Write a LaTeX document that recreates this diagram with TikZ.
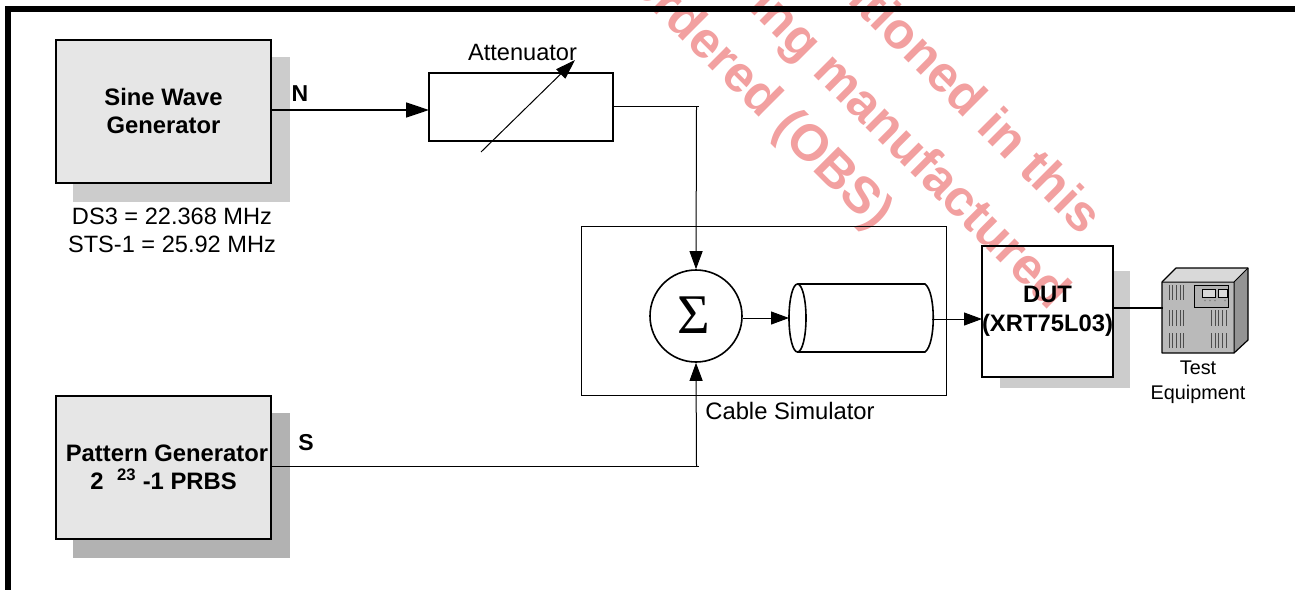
\documentclass[tikz,border=0pt]{standalone}
\usepackage{fontspec}
\setmainfont{Liberation Sans}
\newfontfamily\serifsym{Liberation Serif}
\usetikzlibrary{arrows.meta}
\definecolor{wm}{HTML}{F2A0A0}
\definecolor{lightsh}{HTML}{CCCCCC}
\definecolor{darksh}{HTML}{B2B2B2}
\definecolor{boxfill}{HTML}{E6E6E6}
\tikzset{
  gen/.style={draw=black,line width=1.6pt,fill=boxfill,minimum width=215pt,minimum height=143pt,inner sep=0pt,align=center,font=\fontsize{23.8}{28}\selectfont\bfseries},
  shad/.style={fill=#1,draw=none,inner sep=0pt},
  lbl/.style={inner sep=0pt,align=center,font=\fontsize{23.6}{28}\selectfont},
  blbl/.style={inner sep=0pt,font=\fontsize{23}{25}\selectfont\bfseries},
  wmark/.style={text=wm,inner sep=0pt,anchor=center,rotate=-45,font=\fontsize{51}{60}\selectfont\bfseries},
  conn/.style={draw=black,line width=1pt},
  connb/.style={draw=black,line width=1.7pt},
  tip/.style={-{Triangle[length=18pt,width=13pt]}},
  bigtip/.style={-{Triangle[length=23pt,width=15pt]}},
  vent/.style={draw=black!70,line width=.6pt}
}
\newcommand{\ventgroup}[3]{\foreach \i in {0,...,4}{\draw[vent] ({#1+\i*3.6},#2) -- ({#1+\i*3.6},#3);}}
\begin{document}
\begin{tikzpicture}[x=1pt,y=-1pt]
\useasboundingbox (0,0) rectangle (1295,590);
\begin{scope}
\clip (0,0) rectangle (1295,590);
\node[wmark] (wa) at (760,99) {ordered (OBS)};
\node[wmark] (wb) at (908,151) {ing manufactured};
\node[wmark] (wc) at (971,100) {ntioned in this};
\end{scope}
% frame
\fill[black] (5,6) rectangle (1295,12);
\fill[black] (5,6) rectangle (11,590);
% shadows
\node[shad=lightsh,minimum width=217pt,minimum height=145pt] (sh1) at (181.5,129.5) {};
\node[shad=darksh,minimum width=217pt,minimum height=145pt] (sh2) at (181.5,485.5) {};
\fill[lightsh] (1113,271) rectangle (1130,388);
\fill[lightsh] (1000,377) rectangle (1130,388);
% generators
\node[gen] (sine) at (163.5,111.5) {\raisebox{1pt}{Sine Wave}\\\raisebox{1pt}{Generator}};
\node[gen] (patt) at (163.5,467.5) {\hspace*{7pt}Pattern Generator\\2\hspace{7pt} \textsuperscript{23} -1 PRBS};
\node[lbl] (freq) at (172,230) {DS3 = 22.368 MHz\\STS-1 = 25.92 MHz};
% attenuator
\node[draw=black,line width=1.6pt,minimum width=184pt,minimum height=68pt,inner sep=0pt] (att) at (521,107) {};
\node[lbl] (attl) at (522.5,52) {Attenuator};
\coordinate (va) at (481,152);
\coordinate (vb) at (575,60);
\draw[conn,-{Triangle[length=20pt,width=13pt]}] (va) -- (vb);
% cable simulator
\node[draw=black,line width=1pt,minimum width=365pt,minimum height=169pt,inner sep=0pt] (cs) at (763.5,310.5) {};
\node[lbl,font=\fontsize{23.8}{28}\selectfont] (csl) at (790,411) {Cable Simulator};
\node[draw=black,line width=1.6pt,circle,minimum size=92pt,inner sep=0pt] (sum) at (696,316) {};
\node[inner sep=0pt,font=\fontsize{56}{60}\selectfont\serifsym] (sumt) at (693.5,315) {Σ};
% cable
\draw[line width=1.6pt,fill=white] (797.5,284) -- (925,284) .. controls (936,292) and (936,344) .. (925,352) -- (797.5,352);
\draw[line width=1.6pt,fill=white] (797.5,318) ellipse [x radius=8.5,y radius=34];
\coordinate (cabin) at (789,318);
\coordinate (cabout) at (932,319);
% DUT
\node[draw=black,line width=1.6pt,minimum width=131pt,minimum height=131pt,inner sep=0pt,align=center,font=\fontsize{23.8}{32}\selectfont\bfseries] (dut) at (1047.5,311.5) {DUT\\[-3pt](XRT75L03)};
% test equipment
\fill[black!15!white] (1162,282) -- (1176,268) -- (1248,268) -- (1234,282) -- cycle;
\fill[black!42!white] (1234,282) -- (1248,268) -- (1248,340) -- (1234,353) -- cycle;
\fill[black!27!white] (1162,282) rectangle (1234,353);
\draw[line width=1.2pt,line join=round] (1162,282) -- (1176,268) -- (1248,268) -- (1248,340) -- (1234,353) -- (1162,353) -- cycle;
\draw[line width=1pt] (1162,282) -- (1234,282) -- (1248,268) (1234,282) -- (1234,353);
\ventgroup{1169}{285}{300}
\ventgroup{1169}{310}{326}
\ventgroup{1169}{333}{348}
\ventgroup{1211.5}{310}{326}
\ventgroup{1211.5}{333}{348}
\draw[line width=1pt,fill=black!30!white] (1194,285) rectangle (1228,307);
\draw[line width=.7pt,fill=white!85!black] (1202,289) rectangle (1215,297);
\draw[line width=.7pt,fill=white!85!black] (1218,289) rectangle (1227,297);
\foreach \x in {1205,1210,1215,1225}{\fill[black!50!white] (\x,300.5) circle (.9);}
\node[draw=none,minimum width=72pt,minimum height=71pt,inner sep=0pt] (te) at (1198,317.5) {};
\node[lbl,font=\fontsize{19.8}{25}\selectfont] (tel) at (1198,382) {Test\\Equipment};
% connector labels
\node[blbl] (nl) at (300,94) {N};
\node[blbl] (sl) at (306,443) {S};
% connectors
\coordinate (nout) at (271,110);
\coordinate (nin) at (429,110);
\draw[connb,bigtip] (nout) -- (nin);
\coordinate (atout) at (613,106.5);
\coordinate (atend) at (699,106.5);
\coordinate (down) at (696.5,106.5);
\draw[conn] (atout) -- (atend);
\draw[conn,tip] (down) -- (sum.north);
\coordinate (sout) at (271,466.5);
\coordinate (send) at (699,466.5);
\coordinate (up) at (696.5,466.5);
\draw[conn] (sout) -- (send);
\draw[conn,tip] (up) -- (sum.south);
\draw[conn,tip] (sum.east |- cabin) -- (cabin);
\coordinate (dutin) at (982,319);
\draw[conn,tip] (cabout) -- (dutin);
\coordinate (dutout) at (1113,308);
\coordinate (tein) at (1163,308);
\draw[connb] (dutout) -- (tein);
\end{tikzpicture}
\end{document}
